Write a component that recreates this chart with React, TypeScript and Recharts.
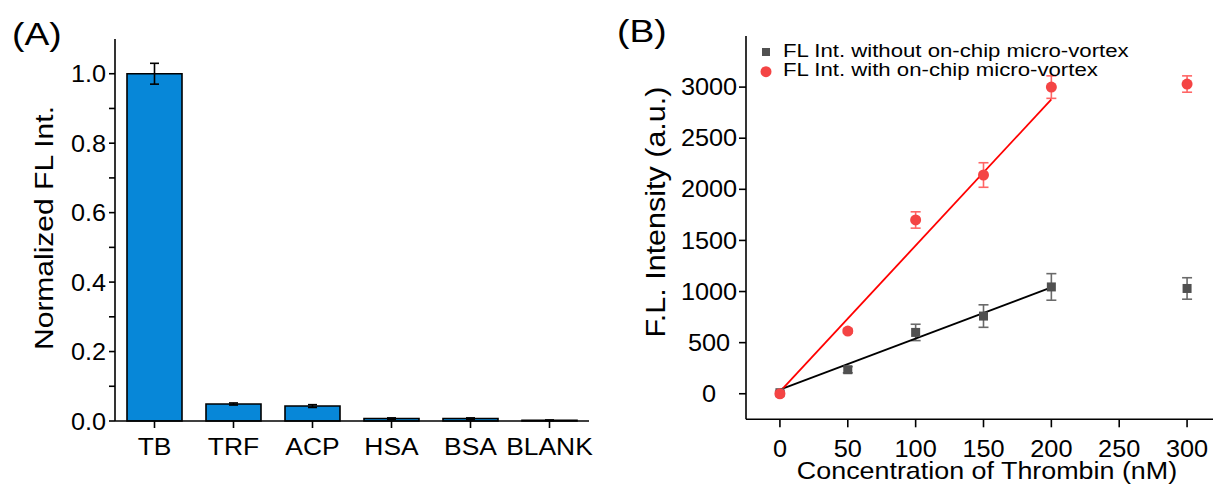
import React from 'react';
import { BarChart, Bar, XAxis, YAxis, ErrorBar, ComposedChart, Scatter, Line, Legend } from 'recharts';

const FONT = '"Liberation Sans", Arial, Helvetica, sans-serif';

// ---- Panel A data ----
const categories = ['TB', 'TRF', 'ACP', 'HSA', 'BSA', 'BLANK'];
const normalizedFL = [1.0, 0.049, 0.043, 0.007, 0.007, 0.002];
const normalizedErr = [0.03, 0.003, 0.004, 0.002, 0.002, 0.001];
const yTicksA = [0, 0.1, 0.2, 0.3, 0.4, 0.5, 0.6, 0.7, 0.8, 0.9, 1.0];

// ---- Panel B data ----
const concentrations = [0, 50, 100, 150, 200, 300];
const flWithout = [10, 235, 600, 760, 1045, 1030];
const errWithout = [15, 30, 80, 110, 130, 105];
const flWith = [0, 613, 1700, 2140, 3000, 3030];
const errWith = [15, 20, 80, 120, 110, 80];
const fitConc = [0, 200];
const fitWithout = [40, 1040];
const fitWith = [20, 2880];
const xTicksB = [0, 50, 100, 150, 200, 250, 300];
const yTicksB = [0, 500, 1000, 1500, 2000, 2500, 3000];
const legendLabels = ['FL Int. without on-chip micro-vortex', 'FL Int. with on-chip micro-vortex'];

const dataA = categories.map((name, i) => ({ name, value: normalizedFL[i], err: normalizedErr[i] }));
const dataWithout = concentrations.map((x, i) => ({ x, y: flWithout[i], err: errWithout[i] }));
const dataWith = concentrations.map((x, i) => ({ x, y: flWith[i], err: errWith[i] }));
const fitWithoutData = fitConc.map((x, i) => ({ x, y: fitWithout[i] }));
const fitWithData = fitConc.map((x, i) => ({ x, y: fitWith[i] }));

const BLUE = '#0787d8';
const GRAY = '#505050';
const RED = '#f44444';

function StretchText({ x, y, text, anchor = 'middle', size, sx = 1, dy, rotate = 0 }: any) {
  return (
    <text
      transform={`translate(${x},${y}) rotate(${rotate}) scale(${sx},1)`}
      textAnchor={anchor}
      fontSize={size}
      fontFamily={FONT}
      fill="#000"
      dy={dy}
    >
      {text}
    </text>
  );
}

const fmtA = (v: number) => (Math.round(v * 10) % 2 === 0 ? v.toFixed(1) : '');

const tickAX = (p: any) => <StretchText x={p.x} y={p.y} text={p.payload.value} anchor="middle" size={24} sx={1.1} dy="0.71em" />;
const tickAY = (p: any) => <StretchText x={p.x} y={p.y} text={fmtA(p.payload.value)} anchor="end" size={24} sx={1.05} dy="0.355em" />;
const tickBX = (p: any) => <StretchText x={p.x} y={p.y} text={p.payload.value} anchor="middle" size={23} sx={1.1} dy="0.71em" />;
const tickBY = (p: any) => <StretchText x={p.x - 28} y={p.y} text={p.payload.value} anchor="middle" size={23} sx={1.1} dy="0.355em" />;

const squareShape = (p: any) => <rect x={p.cx - 4.5} y={p.cy - 4.5} width={9} height={9} fill={GRAY} />;
const circleShape = (p: any) => <circle cx={p.cx} cy={p.cy} r={5.5} fill={RED} />;

const legendContent = () => (
  <svg width={420} height={44} style={{ display: 'block', overflow: 'visible' }}>
    <rect x={7} y={8} width={8} height={8} fill={GRAY} />
    <text transform="translate(28,17) scale(1.2,1)" fontSize={18.5} fontFamily={FONT} fill="#000">{legendLabels[0]}</text>
    <circle cx={11} cy={31.7} r={5.5} fill={RED} />
    <text transform="translate(28,36) scale(1.2,1)" fontSize={18.5} fontFamily={FONT} fill="#000">{legendLabels[1]}</text>
  </svg>
);

const axisStroke = { stroke: '#000', strokeWidth: 1.6 };

export default function App() {
  return (
    <div style={{ position: 'fixed', left: 0, top: 0, width: 1213, height: 487, overflow: 'hidden', background: '#fff' }}>
      {/* Panel A */}
      <div style={{ position: 'absolute', left: 0, top: 0 }}>
        <BarChart width={600} height={487} data={dataA} margin={{ top: 39, right: 11, bottom: 26, left: 55 }}>
          <XAxis
            dataKey="name"
            interval={0}
            height={40}
            tickSize={7}
            tickMargin={10}
            axisLine={axisStroke}
            tickLine={axisStroke}
            tick={tickAX}
          />
          <XAxis xAxisId="top" orientation="top" dataKey="name" height={0} tick={false} tickLine={false} axisLine={axisStroke} />
          <YAxis
            type="number"
            domain={[0, 1.1]}
            ticks={yTicksA}
            width={60}
            tickSize={6}
            tickMargin={3}
            axisLine={axisStroke}
            tickLine={axisStroke}
            tick={tickAY}
          />
          <YAxis yAxisId="right" orientation="right" type="number" domain={[0, 1.1]} width={0} tick={false} tickLine={false} axisLine={axisStroke} />
          <Bar dataKey="value" fill={BLUE} stroke="#000" strokeWidth={1.6} barSize={55} isAnimationActive={false}>
            <ErrorBar dataKey="err" width={4.5} stroke="#000" strokeWidth={1.6} />
          </Bar>
        </BarChart>
      </div>

      {/* Panel B */}
      <div style={{ position: 'absolute', left: 600, top: 0 }}>
        <ComposedChart width={640} height={487} margin={{ top: 36, right: 19, bottom: 27.7, left: 86 }}>
          <XAxis
            type="number"
            dataKey="x"
            domain={[-25, 325]}
            ticks={xTicksB}
            height={40}
            tickSize={8}
            tickMargin={13}
            axisLine={axisStroke}
            tickLine={axisStroke}
            tick={tickBX}
          />
          <XAxis xAxisId="top" orientation="top" type="number" dataKey="x" domain={[-25, 325]} height={0} tick={false} tickLine={false} axisLine={axisStroke} />
          <YAxis
            type="number"
            domain={[-250, 3500]}
            ticks={yTicksB}
            width={60}
            tickSize={7}
            tickMargin={2}
            axisLine={axisStroke}
            tickLine={axisStroke}
            tick={tickBY}
          />
          <YAxis yAxisId="right" orientation="right" type="number" domain={[-250, 3500]} width={0} tick={false} tickLine={false} axisLine={axisStroke} />
          <Legend layout="vertical" align="center" verticalAlign="middle" content={legendContent} wrapperStyle={{ left: 155, top: 40, width: 420, height: 44 }} />
          <Scatter name={legendLabels[0]} data={dataWithout} dataKey="y" shape={squareShape} isAnimationActive={false}>
            <ErrorBar dataKey="err" direction="y" width={5} stroke="#6a6a6a" strokeWidth={1.6} />
          </Scatter>
          <Line data={fitWithoutData} dataKey="y" type="linear" dot={false} stroke="#000" strokeWidth={1.8} isAnimationActive={false} legendType="none" />
          <Scatter name={legendLabels[1]} data={dataWith} dataKey="y" shape={circleShape} isAnimationActive={false}>
            <ErrorBar dataKey="err" direction="y" width={5} stroke="#f66" strokeWidth={1.6} />
          </Scatter>
          <Line data={fitWithData} dataKey="y" type="linear" dot={false} stroke="#ff0000" strokeWidth={1.8} isAnimationActive={false} legendType="none" />
        </ComposedChart>
      </div>

      {/* Titles and panel letters */}
      <svg width={1213} height={487} style={{ position: 'absolute', left: 0, top: 0, pointerEvents: 'none' }}>
        <StretchText x={12} y={45} text="(A)" anchor="start" size={31} sx={1.2} />
        <StretchText x={53} y={228} text="Normalized FL Int." anchor="middle" size={25} sx={1.2} rotate={-90} />
        <StretchText x={617} y={42} text="(B)" anchor="start" size={31} sx={1.2} />
        <StretchText x={665} y={212} text="F.L. Intensity (a.u.)" anchor="middle" size={28} sx={1.09} rotate={-90} />
        <StretchText x={987} y={479} text="Concentration of Thrombin (nM)" anchor="middle" size={24} sx={1.12} />
      </svg>
    </div>
  );
}
